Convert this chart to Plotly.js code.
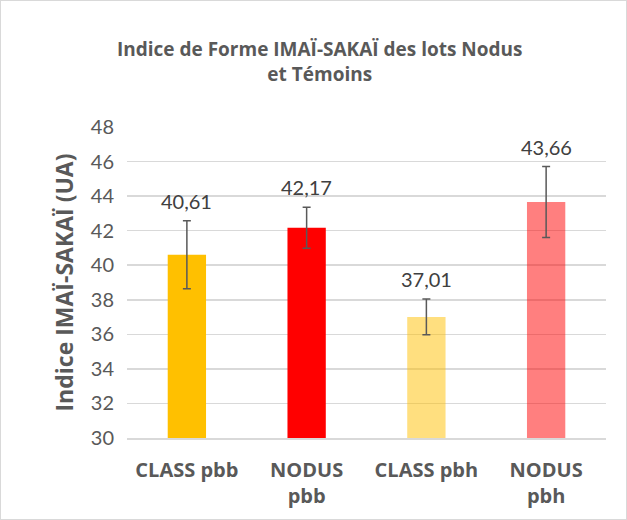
<!DOCTYPE html>
<html><head><meta charset="utf-8">
<script src="https://cdn.plot.ly/plotly-3.0.1.min.js"></script>
<style>html,body{margin:0;padding:0;background:#fff}#c{width:627px;height:520px;box-sizing:border-box;border:1px solid #D9D9D9}</style>
</head><body><div id="c"></div>
<script>
const categories = ["CLASS pbb", "NODUS<br>pbb", "CLASS pbh", "NODUS<br>pbh"];
const values = [40.61, 42.17, 37.01, 43.66];
const errors = [1.97, 1.19, 1.03, 2.05];
const valueLabels = ["40,61", "42,17", "37,01", "43,66"];
const colors = ["#FFC000", "#FF0000", "rgba(255,192,0,0.5)", "rgba(255,0,0,0.5)"];
const font = "Lato, Open Sans, sans-serif";
const boldFont = "Open Sans, Lato, sans-serif";

const trace = {
  type: "bar", x: categories, y: values,
  marker: {color: colors},
  error_y: {type: "data", array: errors, visible: true, color: "#595959", thickness: 1.5, width: 4},
  hoverinfo: "none"
};
const annotations = categories.map((c, i) => ({
  x: c, y: values[i] + errors[i], xref: "x", yref: "y",
  text: valueLabels[i], showarrow: false, yanchor: "bottom", yshift: 6,
  font: {family: font, size: 20, color: "#404040"}
}));
const layout = {
  width: 625, height: 518,
  margin: {l: 126, r: 20, t: 126, b: 81},
  paper_bgcolor: "#fff", plot_bgcolor: "#fff",
  bargap: 0.68,
  showlegend: false,
  title: {text: "<b>Indice de Forme IMAÏ-SAKAÏ des lots Nodus<br>et Témoins</b>", x: 0.51, xanchor: "center", y: 0.893, yanchor: "top",
    font: {family: boldFont, size: 19, color: "#595959"}},
  xaxis: {tickfont: {family: boldFont, size: 20, color: "#595959", weight: "bold"}, showline: true, linecolor: "#D9D9D9", linewidth: 1.5, ticks: "", ticklabelstandoff: 13, fixedrange: true},
  yaxis: {range: [30, 48], dtick: 2, showgrid: true, gridcolor: "#D9D9D9", gridwidth: 1.5, zeroline: false, ticks: "",
    tickfont: {family: font, size: 20, color: "#595959"}, ticklabelstandoff: 12,
    title: {text: "<b>Indice IMAÏ-SAKAÏ (UA)</b>", font: {family: boldFont, size: 23, color: "#595959"}, standoff: 10}},
  annotations: annotations
};
Plotly.newPlot("c", [trace], layout, {staticPlot: true});
</script></body></html>
